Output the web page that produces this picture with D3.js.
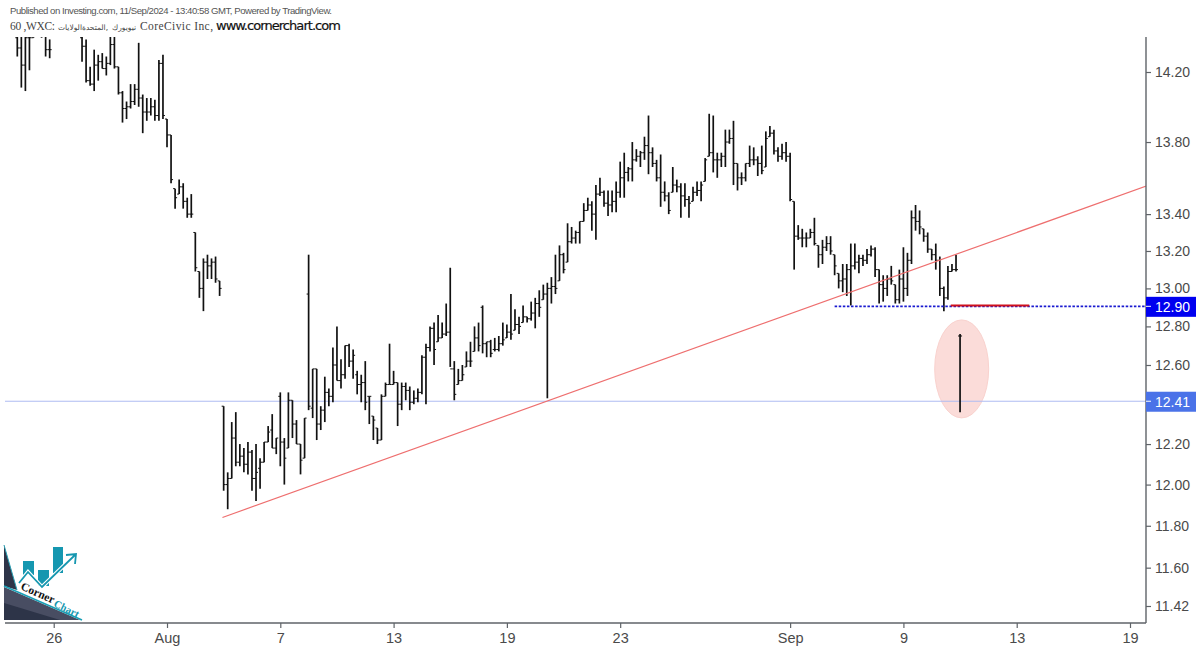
<!DOCTYPE html>
<html>
<head>
<meta charset="utf-8">
<title>CoreCivic Inc</title>
<script src="https://cdnjs.cloudflare.com/ajax/libs/d3/7.8.5/d3.min.js"></script>
<style>
html, body { margin: 0; padding: 0; background: #fff; overflow: hidden; }
svg { display: block; }
</style>
</head>
<body>
<div id="chart"></div>
<script>
// --- hourly bars (bars 9-15 sit above the top edge) ---
const highs = [14.45,14.43,14.42,14.43,14.46,14.50,14.51,14.45,14.39,14.47,14.52,14.58,14.60,14.57,14.55,14.52,
  14.45,14.39,14.23,14.33,14.30,14.31,14.29,14.45,14.45,14.23,14.09,14.03,14.13,14.13,14.37,14.07,14.05,14.05,14.04,14.27,14.30,
  13.93,13.84,13.54,13.59,13.57,13.49,13.51,13.30,13.09,13.16,13.18,13.16,13.17,13.04,
  12.39,12.06,12.31,12.36,12.20,12.18,12.21,12.17,12.20,12.13,12.21,12.29,12.35,12.23,12.46,12.23,12.46,12.42,12.32,12.20,12.33,
  13.18,12.58,12.58,12.39,12.54,12.48,12.69,12.80,12.63,12.70,12.71,12.68,12.57,12.55,12.62,12.44,12.34,12.28,12.45,12.51,12.71,12.57,
  12.51,12.51,12.51,12.49,12.47,12.48,12.65,12.71,12.80,12.82,12.86,12.82,12.92,13.11,
  12.62,12.58,12.60,12.67,12.72,12.80,12.82,12.91,12.72,12.73,12.74,12.75,12.82,12.81,12.97,12.89,12.85,12.91,12.85,12.93,12.95,12.99,13.02,13.03,
  13.06,13.18,13.23,13.19,13.35,13.33,13.31,13.36,13.46,13.49,13.47,13.56,13.60,13.53,13.53,13.53,13.58,13.69,13.74,13.66,13.80,13.76,13.75,13.83,13.95,
  13.77,13.70,13.73,13.58,13.52,13.66,13.59,13.57,13.57,13.50,13.55,13.58,13.58,13.71,13.96,13.95,13.74,13.74,13.87,13.87,13.92,
  13.68,13.63,13.68,13.78,13.77,13.72,13.78,13.86,13.89,13.87,13.77,13.79,13.80,13.74,
  13.47,13.34,13.32,13.30,13.32,13.38,13.23,13.26,13.28,13.28,13.18,13.08,13.13,13.13,13.24,13.24,13.18,13.18,13.21,13.23,13.22,
  13.10,13.07,13.07,13.12,13.02,13.10,13.22,13.19,13.42,13.45,13.42,13.32,13.30,13.21,13.24,13.17,13.01,13.12,13.13,13.18,12.76];

const lows = [14.29,14.11,14.09,14.21,14.40,14.43,14.40,14.29,14.28,14.42,14.46,14.50,14.53,14.50,14.48,14.44,
  14.26,14.14,14.12,14.09,14.15,14.22,14.18,14.24,14.22,14.07,13.91,13.93,13.99,14.01,14.00,13.85,13.92,13.95,13.92,13.92,13.93,
  13.77,13.57,13.43,13.51,13.43,13.38,13.38,13.09,12.95,12.88,13.05,13.05,13.03,12.96,
  11.97,11.88,12.03,12.09,12.09,12.06,12.05,11.97,11.92,11.98,12.11,12.21,12.18,12.15,12.09,12.00,12.18,12.23,12.20,12.05,12.13,
  12.37,12.33,12.22,12.27,12.31,12.39,12.41,12.52,12.48,12.53,12.59,12.53,12.45,12.41,12.37,12.30,12.22,12.20,12.22,12.44,12.50,12.50,
  12.29,12.37,12.42,12.37,12.40,12.41,12.45,12.40,12.67,12.60,12.72,12.74,12.75,12.59,
  12.42,12.50,12.52,12.59,12.59,12.67,12.67,12.66,12.64,12.64,12.67,12.67,12.70,12.74,12.73,12.78,12.76,12.82,12.82,12.83,12.79,12.85,12.94,12.43,
  12.92,12.97,13.04,13.08,13.14,13.24,13.24,13.24,13.36,13.42,13.31,13.26,13.50,13.44,13.39,13.41,13.41,13.49,13.49,13.58,13.58,13.69,13.66,13.70,13.62,
  13.66,13.58,13.44,13.47,13.40,13.52,13.52,13.38,13.44,13.38,13.47,13.50,13.47,13.58,13.72,13.63,13.60,13.66,13.66,13.79,13.56,
  13.53,13.56,13.58,13.66,13.67,13.61,13.62,13.66,13.83,13.73,13.69,13.70,13.69,13.47,
  13.10,13.26,13.22,13.22,13.27,13.23,13.11,13.13,13.20,13.18,13.07,13.00,12.98,12.96,12.91,13.10,13.08,13.12,13.13,13.17,13.06,
  12.92,12.93,12.96,13.02,12.92,12.92,12.93,12.96,13.13,13.31,13.29,13.25,13.19,13.15,13.10,12.96,12.88,12.94,13.09,13.09,12.36];

const opens = [14.40,14.34,14.24,14.40,14.40,14.45,14.45,14.41,14.33,14.44,14.48,14.52,14.55,14.52,14.50,14.48,
  14.40,14.35,14.15,14.13,14.24,14.26,14.22,14.25,14.36,14.23,14.08,13.99,14.00,14.03,14.10,14.05,13.97,13.97,14.00,13.95,14.25,
  13.93,13.84,13.54,13.51,13.55,13.47,13.40,13.30,13.09,13.00,13.14,13.12,13.14,13.04,
  12.39,12.00,12.03,12.23,12.11,12.14,12.10,12.16,12.03,12.08,12.11,12.21,12.27,12.18,12.44,12.21,12.18,12.42,12.30,12.20,12.13,
  12.97,12.38,12.58,12.30,12.37,12.46,12.44,12.60,12.52,12.55,12.70,12.62,12.55,12.50,12.51,12.44,12.34,12.28,12.22,12.44,12.50,12.50,
  12.51,12.40,12.49,12.47,12.41,12.43,12.46,12.64,12.69,12.79,12.72,12.74,12.76,12.77,
  12.58,12.50,12.52,12.59,12.62,12.67,12.74,12.90,12.71,12.72,12.68,12.68,12.71,12.74,12.77,12.78,12.81,12.82,12.85,12.84,12.87,12.92,12.94,12.97,
  13.00,13.01,13.04,13.18,13.14,13.25,13.27,13.30,13.36,13.42,13.45,13.40,13.51,13.52,13.46,13.45,13.47,13.52,13.60,13.63,13.65,13.70,13.72,13.74,13.78,
  13.74,13.68,13.60,13.52,13.50,13.52,13.56,13.55,13.50,13.48,13.47,13.52,13.53,13.58,13.72,13.74,13.70,13.70,13.72,13.80,13.82,
  13.68,13.60,13.60,13.68,13.70,13.70,13.68,13.66,13.83,13.85,13.75,13.72,13.74,13.72,
  13.47,13.28,13.27,13.27,13.27,13.30,13.23,13.18,13.22,13.24,13.18,13.08,13.04,13.05,13.10,13.12,13.14,13.16,13.15,13.18,13.21,
  13.10,13.02,13.00,13.05,13.02,12.94,13.05,13.00,13.15,13.38,13.36,13.32,13.28,13.21,13.18,13.15,13.00,12.95,13.09,13.10,12.75];

const closes = [14.34,14.24,14.40,14.40,14.41,14.45,14.41,14.33,14.33,14.44,14.48,14.52,14.55,14.52,14.50,14.46,
  14.35,14.15,14.13,14.24,14.26,14.22,14.25,14.36,14.23,14.08,13.99,14.00,14.03,14.10,14.05,13.97,13.97,14.00,13.95,14.25,13.95,
  13.84,13.59,13.49,13.55,13.47,13.40,13.40,13.11,13.00,13.14,13.12,13.14,13.05,13.00,
  12.00,12.03,12.23,12.11,12.14,12.10,12.16,12.03,12.06,12.11,12.21,12.26,12.18,12.23,12.21,12.13,12.42,12.30,12.20,12.12,12.33,
  12.39,12.58,12.30,12.37,12.46,12.44,12.60,12.52,12.55,12.70,12.62,12.65,12.50,12.51,12.41,12.44,12.32,12.22,12.44,12.50,12.50,12.51,
  12.40,12.49,12.47,12.41,12.43,12.46,12.64,12.69,12.79,12.68,12.74,12.76,12.77,12.58,
  12.45,12.52,12.55,12.62,12.62,12.74,12.70,12.71,12.72,12.66,12.68,12.71,12.73,12.77,12.76,12.81,12.80,12.85,12.84,12.87,12.92,12.90,12.97,13.00,
  13.01,13.00,13.18,13.10,13.25,13.27,13.30,13.36,13.42,13.45,13.40,13.51,13.52,13.46,13.45,13.47,13.52,13.60,13.63,13.65,13.70,13.72,13.74,13.78,13.74,
  13.68,13.60,13.52,13.50,13.42,13.56,13.55,13.50,13.48,13.46,13.52,13.53,13.56,13.70,13.74,13.70,13.70,13.72,13.80,13.82,13.68,
  13.60,13.60,13.68,13.70,13.70,13.68,13.64,13.82,13.85,13.75,13.72,13.74,13.72,13.48,
  13.28,13.27,13.27,13.27,13.30,13.24,13.18,13.22,13.24,13.20,13.12,13.04,13.05,13.10,13.12,13.14,13.16,13.15,13.18,13.21,13.10,
  13.02,13.00,13.05,13.04,12.94,13.05,13.00,13.15,13.38,13.36,13.33,13.28,13.21,13.18,13.15,13.00,12.95,13.09,13.10,13.10,12.75];

const xTickBars = [9, 37, 65, 93, 121, 149, 191, 219, 247, 275];
const xTickLabels = ['26', 'Aug', '7', '13', '19', '23', 'Sep', '9', '13', '19'];
const yTicks = [14.20, 13.80, 13.40, 13.20, 13.00, 12.80, 12.60, 12.20, 12.00, 11.80, 11.60, 11.42];

// drawn lines and price boxes
const trendBars = [50.7, 279.7];
const trendPrices = [11.84, 13.56];
const supportPrice = 12.90;
const supportStartBar = 202;
const lastPrice = 12.41;
const targetBars = [230.7, 250.1];
const targetPrice = 12.91;

const titleTop = 'Published on Investing.com, 11/Sep/2024 - 13:40:58 GMT, Powered by TradingView.';
const titleLeft = '60 ,WXC:';
const titleScript = ['الولايات', 'المتحدة,', 'نيويورك'];
const titleName = 'CoreCivic Inc,';
const titleSite = 'www.cornerchart.com';

// --- layout ---
const width = 1200;
const height = 651;
const plot = { left: 5, right: 1146, top: 37, bottom: 623 };
const axisColor = '#5f6368';
const labelColor = '#4a4a4a';
const sans = '"Liberation Sans", Arial, sans-serif';

const x = d3.scaleLinear().domain([0, 275]).range([17.3, 1130]);
const y = d3.scaleLog().domain([14.2, 11.42]).range([72, 606]);

const svg = d3.select('#chart').append('svg')
  .attr('width', width)
  .attr('height', height)
  .style('background', '#fff');

svg.append('defs').append('clipPath').attr('id', 'plot-clip')
  .append('rect')
  .attr('x', plot.left)
  .attr('y', plot.top)
  .attr('width', plot.right - plot.left)
  .attr('height', plot.bottom - plot.top);

// --- titles ---
svg.append('text').attr('x', 10).attr('y', 14)
  .attr('font-family', sans).attr('font-size', 9.6).attr('fill', '#555')
  .attr('textLength', 322).text(titleTop);

const titleRow = svg.append('g').attr('font-family', '"Liberation Serif", serif').attr('fill', '#444');
titleRow.append('text').attr('x', 10).attr('y', 30).attr('font-size', 11.5)
  .style('white-space', 'pre')
  .attr('textLength', 45).text(titleLeft);
[70, 95, 124].forEach((px, i) => {
  titleRow.append('text').attr('x', px).attr('y', 30)
    .attr('font-family', '"DejaVu Sans"').attr('font-size', 7.5)
    .attr('text-anchor', 'middle').text(titleScript[i]);
});
titleRow.append('text').attr('x', 140).attr('y', 30).attr('font-size', 11.5)
  .attr('textLength', 73).text(titleName);
svg.append('text').attr('x', 216).attr('y', 30)
  .attr('font-family', '"DejaVu Sans", sans-serif').attr('font-size', 13).attr('fill', '#111')
  .attr('stroke', '#111').attr('stroke-width', 0.2)
  .attr('textLength', 125).text(titleSite);

// --- logo ---
const logo = svg.append('g');
logo.append('path').attr('d', 'M4,545 L17,590 L4,586 Z').attr('fill', '#2d3448');
logo.append('path').attr('d', 'M4,587 L80,620 L4,620 Z').attr('fill', '#484d62');
logo.append('path').attr('d', 'M4,603 L60,620 L4,620 Z').attr('fill', '#2d3448');
logo.append('path').attr('d', 'M4,545 L17,590').attr('stroke', '#2a9fb3').attr('stroke-width', 1).attr('fill', 'none');
logo.append('path').attr('d', 'M4,586 L82,620').attr('stroke', '#1a9fb5').attr('stroke-width', 1.6).attr('fill', 'none');
[[23, 561, 11, 14], [38, 570, 11, 16], [53, 547, 10, 26]].forEach(([bx, by, bw, bh]) => {
  logo.append('rect').attr('x', bx).attr('y', by).attr('width', bw).attr('height', bh).attr('fill', '#1597b0');
});
logo.append('path').attr('d', 'M19,583 L28,572 L42,587 L75,555')
  .attr('fill', 'none').attr('stroke', '#fff').attr('stroke-width', 4);
logo.append('path').attr('d', 'M19,583 L28,572 L42,587 L75,555 M66,555 L76,554 L75,564')
  .attr('fill', 'none').attr('stroke', '#1597b0').attr('stroke-width', 1.8);
logo.append('text').attr('transform', 'translate(20,589) rotate(24)')
  .attr('font-family', '"Liberation Serif", serif').attr('font-weight', 'bold').attr('font-size', 11.5)
  .attr('fill', '#111').text('Corner');
logo.append('text').attr('transform', 'translate(53,606) rotate(26)')
  .attr('font-family', '"Liberation Serif", serif').attr('font-weight', 'bold').attr('font-size', 10.5)
  .attr('fill', '#1597b0').text('Chart');

// --- annotations under the bars ---
svg.append('ellipse')
  .attr('cx', x(233.4)).attr('cy', y(12.58))
  .attr('rx', 27).attr('ry', 49)
  .attr('fill', '#fbdcd9').attr('stroke', '#f9d2ce').attr('stroke-width', 1);

svg.append('line')
  .attr('x1', plot.left).attr('x2', plot.right)
  .attr('y1', y(lastPrice) - 1).attr('y2', y(lastPrice) - 1)
  .attr('stroke', '#aebcf2').attr('stroke-width', 1);

// --- bars ---
const chart = svg.append('g').attr('clip-path', 'url(#plot-clip)');
const barGroup = chart.append('g').attr('stroke', '#111');

const bars = d3.range(highs.length);
barGroup.selectAll('line.range').data(bars).join('line')
  .attr('class', 'range')
  .attr('x1', i => x(i)).attr('x2', i => x(i))
  .attr('y1', i => y(highs[i])).attr('y2', i => y(lows[i]))
  .attr('stroke-width', 1.7);
barGroup.selectAll('line.open').data(bars).join('line')
  .attr('class', 'open')
  .attr('x1', i => x(i) - 2).attr('x2', i => x(i))
  .attr('y1', i => y(opens[i])).attr('y2', i => y(opens[i]))
  .attr('stroke-width', 1);
barGroup.selectAll('line.close').data(bars).join('line')
  .attr('class', 'close')
  .attr('x1', i => x(i)).attr('x2', i => x(i) + 2)
  .attr('y1', i => y(closes[i])).attr('y2', i => y(closes[i]))
  .attr('stroke-width', 1);

// --- drawn lines over the bars ---
chart.append('line')
  .attr('x1', x(trendBars[0])).attr('y1', y(trendPrices[0]))
  .attr('x2', x(trendBars[1])).attr('y2', y(trendPrices[1]))
  .attr('stroke', '#ee6f6f').attr('stroke-width', 1.2);

chart.append('line')
  .attr('x1', x(supportStartBar)).attr('x2', plot.right)
  .attr('y1', y(supportPrice) - 1).attr('y2', y(supportPrice) - 1)
  .attr('stroke', '#1a1ad0').attr('stroke-width', 1.6).attr('stroke-dasharray', '2.5,1.6');

chart.append('line')
  .attr('x1', x(targetBars[0])).attr('x2', x(targetBars[1]))
  .attr('y1', y(targetPrice)).attr('y2', y(targetPrice))
  .attr('stroke', '#d0101c').attr('stroke-width', 2);

// --- axes ---
const xAxis = d3.axisBottom(x)
  .tickValues(xTickBars)
  .tickFormat((d, i) => xTickLabels[i])
  .tickSize(5)
  .tickPadding(5);

const yAxis = d3.axisRight(y)
  .tickValues(yTicks)
  .tickFormat(d3.format('.2f'))
  .tickSize(5)
  .tickPadding(4);

const xG = svg.append('g').attr('transform', `translate(0,${plot.bottom})`).call(xAxis);
xG.select('.domain').attr('d', `M${plot.left},0H${plot.right}`);

const yG = svg.append('g').attr('transform', `translate(${plot.right},0)`).call(yAxis);
yG.select('.domain').attr('d', `M0,${plot.top}V${plot.bottom}`);

[xG, yG].forEach(g => {
  g.select('.domain').attr('stroke', axisColor).attr('stroke-width', 1.4);
  g.selectAll('.tick line').attr('stroke', axisColor).attr('stroke-width', 1.2);
  g.selectAll('.tick text')
    .attr('font-family', sans)
    .attr('font-size', g === xG ? 14.5 : 14)
    .attr('fill', labelColor);
});

// --- price boxes ---
function priceBox(value, fill) {
  const cy = y(value);
  const g = svg.append('g');
  g.append('rect')
    .attr('x', plot.right).attr('y', cy - 10.5)
    .attr('width', 50).attr('height', 20)
    .attr('fill', fill);
  g.append('line')
    .attr('x1', plot.right).attr('x2', plot.right + 5)
    .attr('y1', cy - 1).attr('y2', cy - 1)
    .attr('stroke', '#fff').attr('stroke-width', 1);
  g.append('text')
    .attr('x', plot.right + 9).attr('y', cy - 0.5)
    .attr('dy', '0.35em')
    .attr('font-family', sans).attr('font-size', 14)
    .attr('fill', '#fff')
    .text(d3.format('.2f')(value));
}
priceBox(supportPrice, '#0000f0');
priceBox(lastPrice, '#4a72e8');
</script>
</body>
</html>
